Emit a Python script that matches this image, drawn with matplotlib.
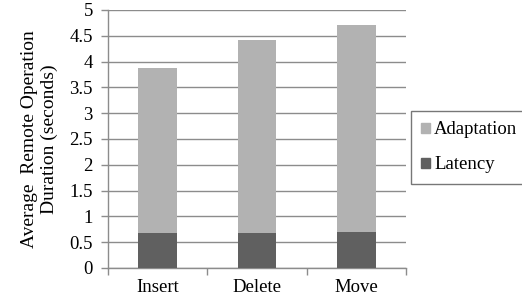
import numpy as np
import matplotlib
matplotlib.use("Agg")
import matplotlib.pyplot as plt
from matplotlib.patches import Patch

# values
operations = ["Insert", "Delete", "Move"]
latency = [0.67, 0.67, 0.69]
adaptation = [3.21, 3.75, 4.01]

plt.rcParams['font.family'] = ['Liberation Serif', 'DejaVu Serif']
fs = 13.5

fig = plt.figure(figsize=(5.22, 3.02), dpi=100)
ax = fig.add_axes([0.207, 0.113, 0.571, 0.854])

x = np.arange(len(operations))
ax.bar(x, latency, width=0.39, color="#606060", zorder=3)
ax.bar(x, adaptation, width=0.39, bottom=latency, color="#b2b2b2", zorder=3)

ax.set_xlim(-0.5, 2.5)
ax.set_ylim(0, 5)
ax.set_yticks(np.arange(0, 5.01, 0.5))
ax.set_yticklabels(["0", "0.5", "1", "1.5", "2", "2.5", "3", "3.5", "4", "4.5", "5"])
ax.yaxis.grid(True, color="#8c8c8c", linewidth=1.0, zorder=0)

# category labels centred, tick marks between categories
ax.set_xticks(x)
ax.set_xticklabels(operations, fontsize=fs)
ax.tick_params(axis="x", length=0, pad=8)
ax.set_xticks([-0.5, 0.5, 1.5, 2.5], minor=True)
ax.tick_params(axis="x", which="minor", length=5, color="#8c8c8c", width=1)
ax.tick_params(axis="y", length=5, color="#8c8c8c", width=1, labelsize=fs, pad=6)

for s in ["top", "right"]:
    ax.spines[s].set_visible(False)
for s in ["left", "bottom"]:
    ax.spines[s].set_color("#8c8c8c")
    ax.spines[s].set_linewidth(1)

ax.set_ylabel("Average  Remote Operation\nDuration (seconds)", fontsize=14,
              linespacing=1.25, labelpad=8, ha="center", multialignment="center")

handles = [Patch(color="#b2b2b2", label="Adaptation"),
           Patch(color="#606060", label="Latency")]
leg = fig.legend(handles=handles, loc="upper left", bbox_to_anchor=(0.787, 0.632),
                 fontsize=fs, frameon=True, fancybox=False, edgecolor="#555555",
                 handlelength=0.45, handleheight=0.45, handletextpad=0.25,
                 borderpad=0.55, labelspacing=0.95, borderaxespad=0)
leg.get_frame().set_linewidth(1)

fig.savefig("out.png", dpi=100)
